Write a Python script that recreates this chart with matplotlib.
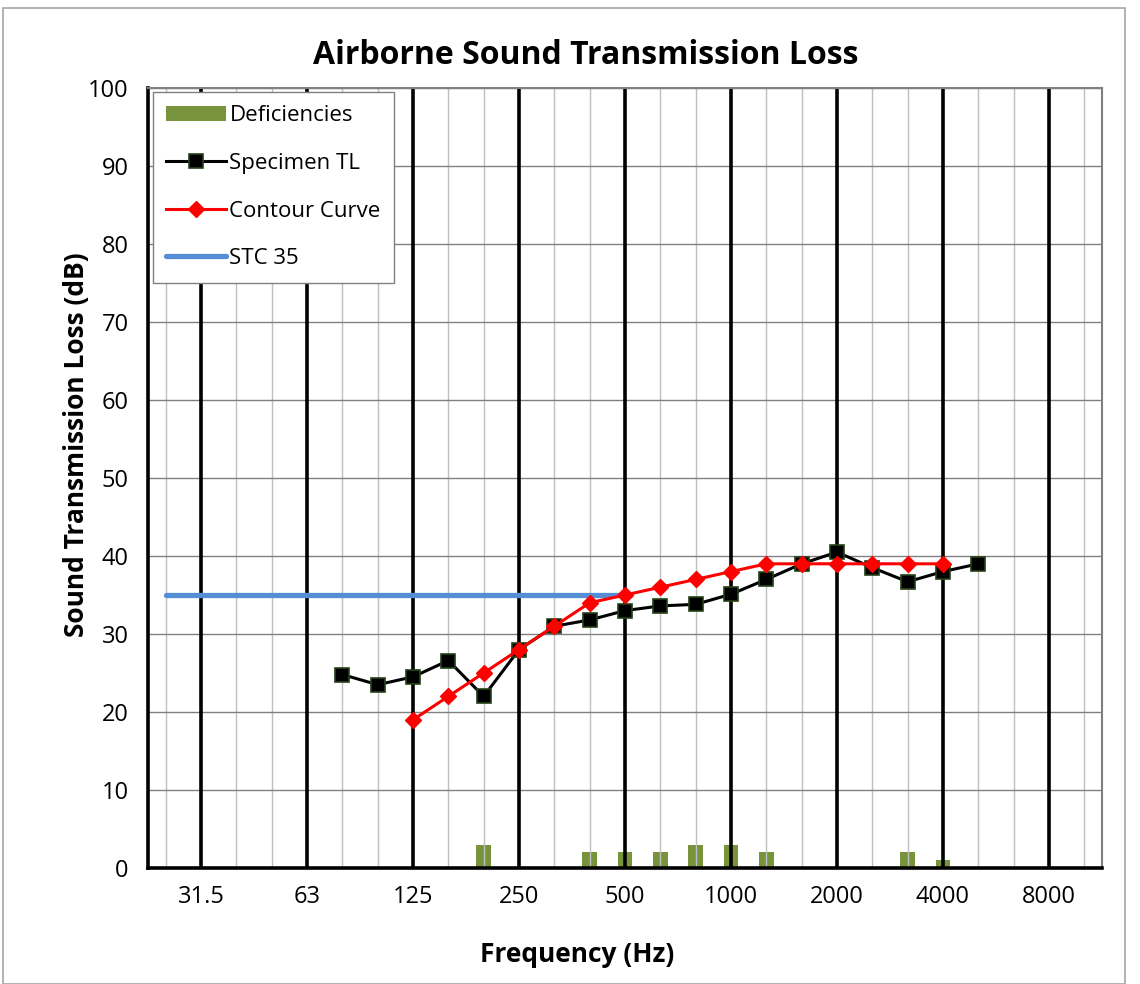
import numpy as np
import matplotlib.pyplot as plt
from matplotlib.patches import Rectangle

plt.rcParams['font.family'] = ['Open Sans', 'DejaVu Sans']

# one-third octave bands (category axis)
bands = ['25', '31.5', '40', '50', '63', '80', '100', '125', '160', '200', '250', '315',
         '400', '500', '630', '800', '1000', '1250', '1600', '2000', '2500', '3150',
         '4000', '5000', '6300', '8000', '10000']
octave_labels = ['31.5', '63', '125', '250', '500', '1000', '2000', '4000', '8000']

# Specimen TL, 80 Hz - 5000 Hz
tl_bands = ['80', '100', '125', '160', '200', '250', '315', '400', '500', '630', '800',
            '1000', '1250', '1600', '2000', '2500', '3150', '4000', '5000']
tl_values = [24.8, 23.5, 24.5, 26.6, 22.0, 28.0, 31.0, 31.8, 33.0, 33.6, 33.8,
             35.1, 37.0, 39.0, 40.5, 38.5, 36.7, 38.0, 39.0]

# STC contour, 125 Hz - 4000 Hz
contour_bands = ['125', '160', '200', '250', '315', '400', '500', '630', '800', '1000',
                 '1250', '1600', '2000', '2500', '3150', '4000']
contour_values = [19, 22, 25, 28, 31, 34, 35, 36, 37, 38, 39, 39, 39, 39, 39, 39]

# deficiencies
def_bands = ['200', '400', '500', '630', '800', '1000', '1250', '3150', '4000']
def_values = [3, 2, 2, 2, 3, 3, 2, 2, 1]

# STC 35 reference line
stc_bands = ['25', '500']
stc_values = [35, 35]

idx = {b: i for i, b in enumerate(bands)}

fig = plt.figure(figsize=(11.4, 9.84), dpi=100)
ax = fig.add_axes([148 / 1140, 1 - 868 / 984, (1102 - 148) / 1140, (868 - 88) / 984])

fig.patches.append(Rectangle((3 / 1140, 0.0), 1122 / 1140, 1 - 8 / 984, transform=fig.transFigure,
                             fill=False, edgecolor='#A6A6A6', linewidth=1.2))

# grid lines
for i, b in enumerate(bands):
    if b in octave_labels:
        ax.axvline(i, color='black', linewidth=2.6, zorder=3)
    else:
        ax.axvline(i, color='#BFBFBF', linewidth=1.0, zorder=2)
for yv in range(10, 101, 10):
    ax.axhline(yv, color='#808080', linewidth=1.0, zorder=2)

h_def = ax.bar([idx[b] for b in def_bands], def_values, width=0.42, color='#77933C',
               label='Deficiencies', zorder=1)
h_tl, = ax.plot([idx[b] for b in tl_bands], tl_values, color='black', linewidth=2.2,
                marker='s', markersize=10, markerfacecolor='black', markeredgecolor='#254117',
                markeredgewidth=1.2, label='Specimen TL', zorder=5)
h_con, = ax.plot([idx[b] for b in contour_bands], contour_values, color='#FF0000', linewidth=2.2,
                 marker='D', markersize=8, markerfacecolor='#FF0000', markeredgecolor='#FF0000',
                 label='Contour Curve', zorder=6)
h_stc, = ax.plot([idx[b] for b in stc_bands], stc_values, color='#558ED5', linewidth=3.8,
                 solid_capstyle='round', label='STC 35', zorder=4)

ax.set_xlim(-0.5, len(bands) - 0.5)
ax.set_ylim(0, 100)
ax.set_yticks(range(0, 101, 10))
ax.set_xticks([idx[b] for b in octave_labels])
ax.set_xticklabels(octave_labels)
ax.tick_params(axis='both', labelsize=17, length=0, pad=12)
ax.tick_params(axis='y', pad=14)

for s in ['top', 'right']:
    ax.spines[s].set_color('#808080')
    ax.spines[s].set_linewidth(1.5)
for s in ['left', 'bottom']:
    ax.spines[s].set_color('black')
    ax.spines[s].set_linewidth(2.6)
for s in ax.spines.values():
    s.set_zorder(7)

fig.text(586 / 1140, 1 - 55 / 984, 'Airborne Sound Transmission Loss', fontsize=23,
         fontweight='bold', ha='center', va='center')
ax.set_xlabel('Frequency (Hz)', fontsize=19, fontweight='bold')
ax.xaxis.set_label_coords((577 - 148) / 954, -(955 - 868) / 780)
ax.set_ylabel('Sound Transmission Loss (dB)', fontsize=19, fontweight='bold')
ax.yaxis.set_label_coords(-(148 - 77) / 954, (868 - 445) / 780)
ax.xaxis.label.set_va('center')
ax.yaxis.label.set_va('center')

leg = ax.legend([h_def, h_tl, h_con, h_stc], ['Deficiencies', 'Specimen TL', 'Contour Curve', 'STC 35'],
                loc='upper left', bbox_to_anchor=(0.005, 0.995), fontsize=16,
                labelspacing=1.2, handlelength=2.7, handletextpad=0.15, borderpad=0.6,
                borderaxespad=0, fancybox=False, framealpha=1, edgecolor='#808080')
leg.get_frame().set_linewidth(1.0)
leg.set_zorder(10)

fig.savefig('out.png', dpi=100)
